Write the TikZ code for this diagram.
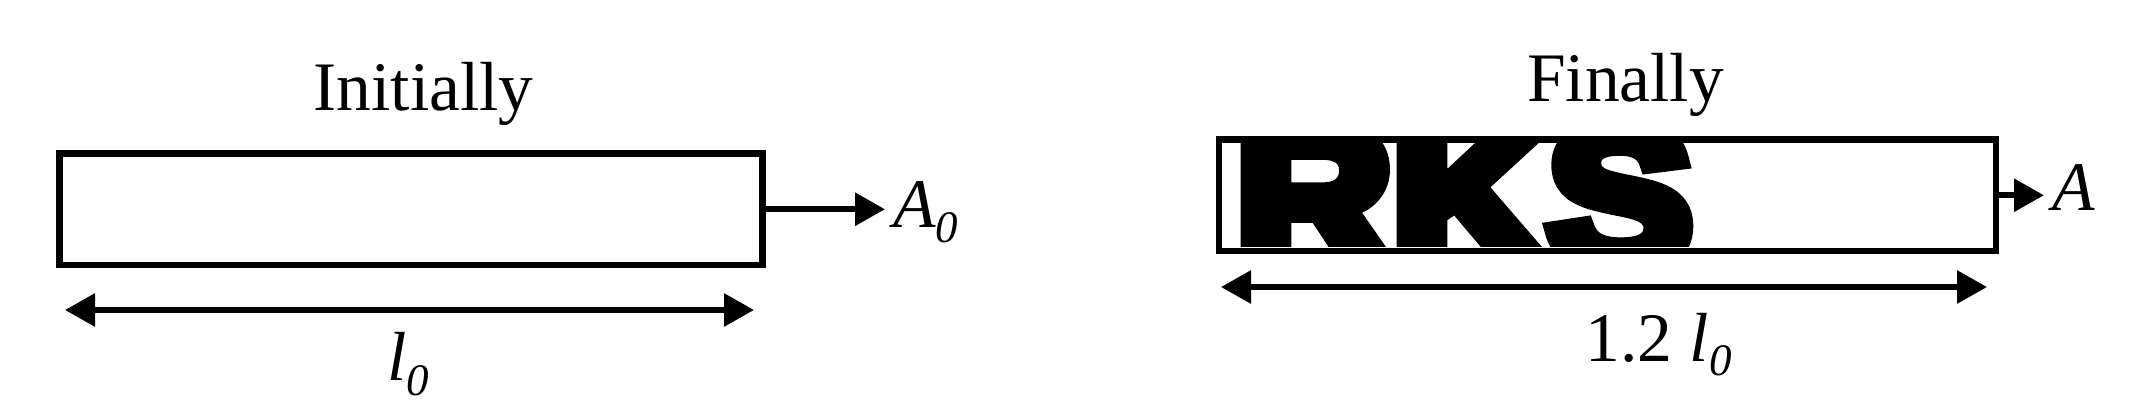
\documentclass[tikz,border=0pt]{standalone}
\usepackage{fontspec}
\setmainfont{Liberation Serif}
\newfontfamily\wmfont{Liberation Sans}[FakeBold=9]
\usetikzlibrary{arrows.meta}

\newcommand{\subz}[1]{\raisebox{-2.8pt}{\fontsize{9pt}{10pt}\selectfont\itshape #1}}

\tikzset{every picture/.style={line width=1.2pt}}
\tikzset{
  rod/.style={draw, line width=1.3pt, inner sep=0pt, minimum height=22.3pt},
  pull/.style={-{Triangle[length=6pt,width=6.4pt]}, line width=1.2pt},
  span/.style={{Triangle[length=6pt,width=6.4pt]}-{Triangle[length=6pt,width=6.4pt]}, line width=1.2pt},
  txt/.style={inner sep=0pt, outer sep=0pt, font=\fontsize{13.9pt}{16pt}\selectfont},
  tag/.style={txt, inner xsep=1.6pt, anchor=base west}
}

\begin{document}
\begin{tikzpicture}[x=0.2pt,y=0.2pt,yscale=-1,xscale=1]
    \useasboundingbox (0,0) rectangle (2134,412);

    %Rod before stretching
    \node [rod, minimum width=140.6pt] (ibox) at (411,209.25) {};
    %Rod after stretching
    \node [rod, minimum width=155.4pt] (fbox) at (1607.5,195.25) {};

    %Watermark inside the stretched rod
    \begin{scope}
      \clip (1222,143) rectangle (1993,247);
      \node [anchor=base west, inner sep=0pt, font=\wmfont\bfseries\fontsize{40pt}{42pt}\selectfont] (rks) at (1233,266) {\scalebox{1.08}[1]{RKS}};
    \end{scope}

    % Text Node
    \node [txt, anchor=base] (init) at (423.5,111) {Initially};
    % Text Node
    \node [txt, anchor=base] (fin) at (1625.5,102) {Finally};

    % Area labels
    \node [tag] (A0) at (885,228) {\itshape A\subz{0}};
    \node [tag] (A1) at (2044,211) {\itshape A};
    \draw [pull] (ibox.east) -- (ibox.east -| A0.west);
    \draw [pull] (fbox.east) -- (fbox.east -| A1.west);

    % Lengths
    \coordinate (iL) at (65,310);
    \coordinate (iR) at (754,310);
    \coordinate (fL) at (1221,287);
    \coordinate (fR) at (1987,287);
    \draw [span] (iL) -- (iR);
    \draw [span] (fL) -- (fR);
    \node [txt, anchor=base] (l0) at (408.5,381) {\itshape l\subz{0}};
    \node [txt, anchor=base] (l1) at (1658.5,362) {1.2 \itshape l\subz{0}};

\end{tikzpicture}
\end{document}
